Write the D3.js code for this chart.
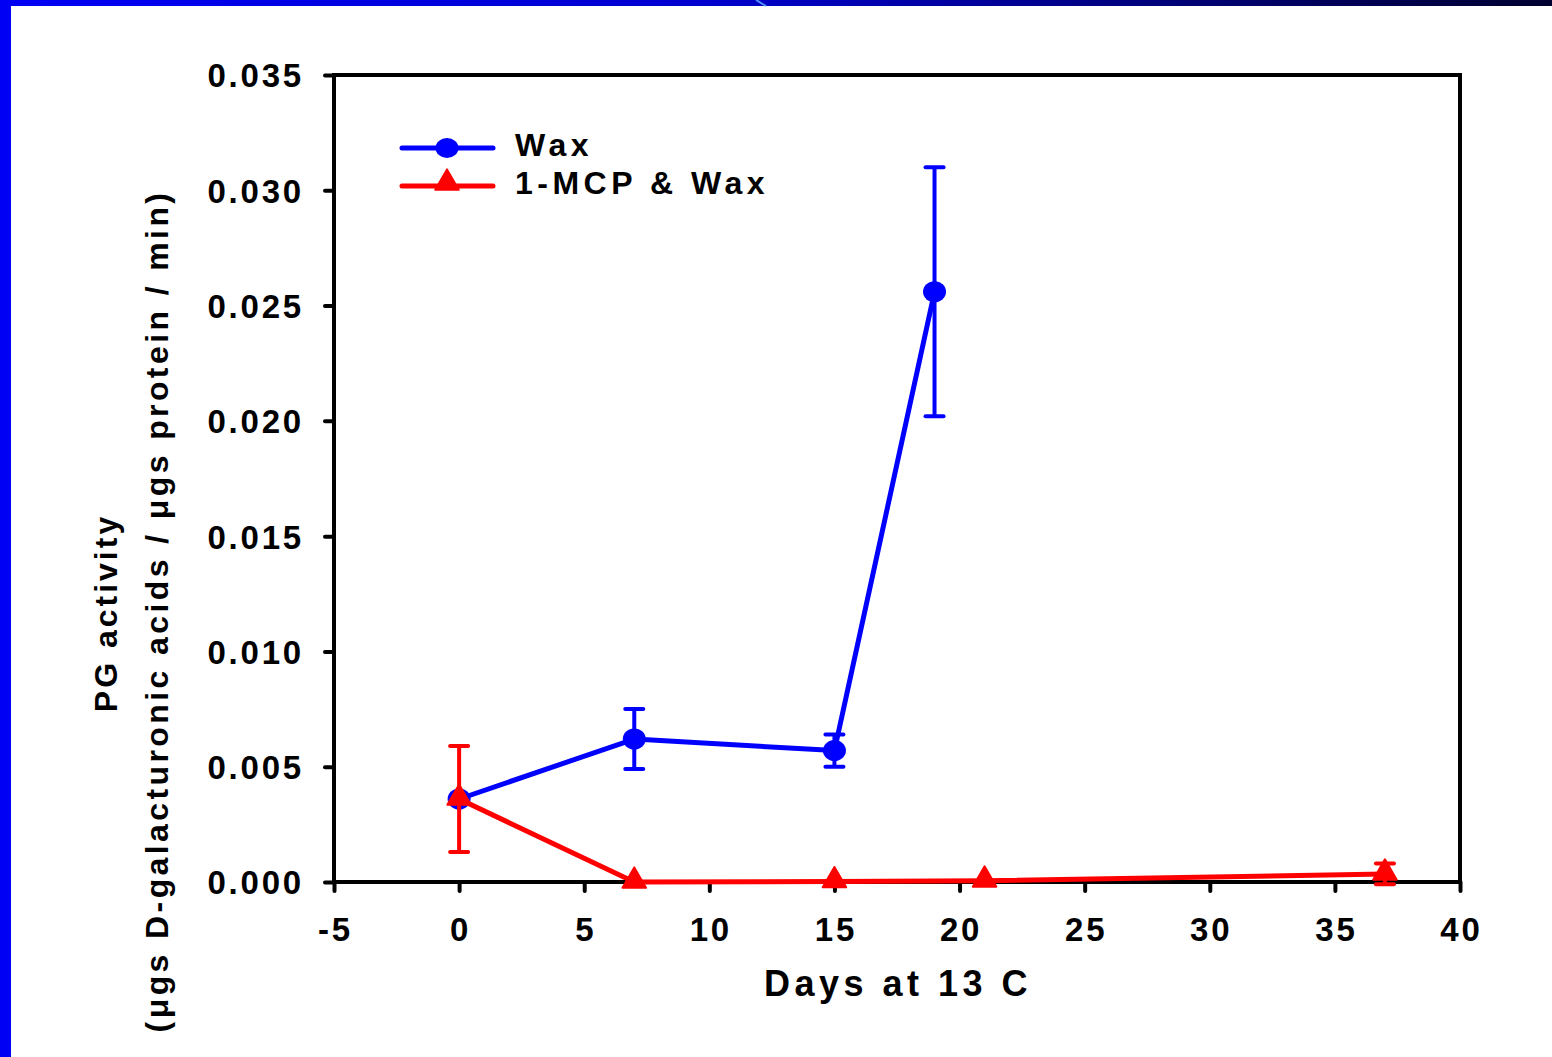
<!DOCTYPE html>
<html>
<head>
<meta charset="utf-8">
<script src="https://cdn.jsdelivr.net/npm/d3@7"></script>
<style>
  html, body { margin: 0; padding: 0; background: #fff; }
  svg { display: block; }
  text { font-family: "Liberation Sans", Arial, sans-serif; font-weight: bold; fill: #000; }
</style>
</head>
<body>
<svg id="chart" width="1552" height="1057"></svg>
<script>
// ---- data ----
const waxDays   = [0, 7, 15, 19];
const waxValues = [0.0036, 0.0062, 0.0057, 0.0256];
const waxErrors = [0.0000, 0.0013, 0.0007, 0.0054];

const mcpDays   = [0, 7, 15, 21, 37];
const mcpValues = [0.0036, 0.0000, 0.00002, 0.00005, 0.00035];
const mcpErrors = [0.0023, 0.0000, 0.0000, 0.0000, 0.00045];

const xTicks = [-5, 0, 5, 10, 15, 20, 25, 30, 35, 40];
const yTicks = [0, 0.005, 0.010, 0.015, 0.020, 0.025, 0.030, 0.035];

const seriesNames = ["Wax", "1-MCP & Wax"];
const xTitle = "Days at 13 C";
const yTitle1 = "PG activity";
const yTitle2 = "(μgs D-galacturonic acids / μgs protein / min)";

// ---- layout ----
const svg = d3.select("#chart");
const W = 1552, H = 1057;
const L = 334, R = 1460, T = 75, B = 882;

// slide frame
const defs = svg.append("defs");
const grad = defs.append("linearGradient").attr("id", "topgrad")
  .attr("x1", "0%").attr("x2", "100%").attr("y1", "0%").attr("y2", "0%");
grad.append("stop").attr("offset", "0%").attr("stop-color", "#0000f4");
grad.append("stop").attr("offset", "45%").attr("stop-color", "#0000d0");
grad.append("stop").attr("offset", "100%").attr("stop-color", "#000030");
svg.append("rect").attr("x", 0).attr("y", 0).attr("width", W).attr("height", 6).attr("fill", "url(#topgrad)");
svg.append("rect").attr("x", 0).attr("y", 0).attr("width", 11).attr("height", H).attr("fill", "#0000f4");
svg.append("line").attr("x1", 756).attr("y1", 0).attr("x2", 766).attr("y2", 6)
  .attr("stroke", "#4f8fff").attr("stroke-width", 2);

const x = d3.scaleLinear().domain([-5, 40]).range([L, R]);
const y = d3.scaleLinear().domain([0, 0.035]).range([B, T]);

// axes
const fmtY = d3.format(".3f");
const xAxis = svg.append("g").attr("transform", `translate(0,${B})`)
  .call(d3.axisBottom(x).tickValues(xTicks).tickSize(9).tickSizeOuter(0).tickPadding(27).tickFormat(d => String(d)));
const yAxis = svg.append("g").attr("transform", `translate(${L},0)`)
  .call(d3.axisLeft(y).tickValues(yTicks).tickSize(9).tickSizeOuter(0).tickPadding(21).tickFormat(fmtY));

[xAxis, yAxis].forEach(g => {
  g.select(".domain").remove();
  g.selectAll(".tick line").attr("stroke", "#000").attr("stroke-width", 4).attr("stroke-linecap", "round");
  g.selectAll(".tick text").style("font-size", "33px").style("letter-spacing", "2.8px")
    .style("font-family", "'Liberation Sans', Arial, sans-serif").style("font-weight", "bold").attr("fill", "#000");
});
xAxis.selectAll(".tick text").attr("dy", "0.71em").attr("dx", "1px");
yAxis.selectAll(".tick text").attr("dy", "0.36em");

// frame box
svg.append("rect").attr("x", L).attr("y", T).attr("width", R - L).attr("height", B - T)
  .attr("fill", "none").attr("stroke", "#000").attr("stroke-width", 4);

// series
function drawSeries(days, vals, errs, color, marker) {
  const pts = days.map((d, i) => ({ d, v: vals[i], e: errs[i] }));
  const line = d3.line().x(p => x(p.d)).y(p => y(p.v));
  const g = svg.append("g");
  g.append("path").datum(pts).attr("d", line).attr("fill", "none")
    .attr("stroke", color).attr("stroke-width", 5).attr("stroke-linejoin", "round");
  // error bars
  const eb = g.selectAll(".eb").data(pts.filter(p => p.e > 0)).enter().append("g");
  eb.append("line").attr("x1", p => x(p.d)).attr("x2", p => x(p.d))
    .attr("y1", p => y(p.v - p.e)).attr("y2", p => y(p.v + p.e))
    .attr("stroke", color).attr("stroke-width", 4);
  [1, -1].forEach(s => {
    eb.append("line").attr("x1", p => x(p.d) - 9).attr("x2", p => x(p.d) + 9)
      .attr("y1", p => y(p.v + s * p.e)).attr("y2", p => y(p.v + s * p.e))
      .attr("stroke", color).attr("stroke-width", 4).attr("stroke-linecap", "round");
  });
  // markers
  if (marker === "circle") {
    g.selectAll(".m").data(pts).enter().append("ellipse")
      .attr("cx", p => x(p.d)).attr("cy", p => y(p.v)).attr("rx", 11.5).attr("ry", 10.5).attr("fill", color);
  } else {
    const sym = d3.symbol().type(d3.symbolTriangle).size(240);
    g.selectAll(".m").data(pts).enter().append("path")
      .attr("d", sym).attr("transform", p => `translate(${x(p.d)},${y(p.v) - 1})`)
      .attr("fill", color).attr("stroke", color).attr("stroke-width", 2).attr("stroke-linejoin", "round");
  }
}
drawSeries(waxDays, waxValues, waxErrors, "#0000ff", "circle");
drawSeries(mcpDays, mcpValues, mcpErrors, "#ff0000", "triangle");

// legend
const legend = [
  { name: seriesNames[0], color: "#0000ff", marker: "circle", y: 148 },
  { name: seriesNames[1], color: "#ff0000", marker: "triangle", y: 186 }
];
legend.forEach(l => {
  svg.append("line").attr("x1", 402).attr("x2", 493).attr("y1", l.y).attr("y2", l.y)
    .attr("stroke", l.color).attr("stroke-width", 5).attr("stroke-linecap", "round");
  if (l.marker === "circle") {
    svg.append("ellipse").attr("cx", 447).attr("cy", l.y).attr("rx", 11.5).attr("ry", 10).attr("fill", l.color);
  } else {
    svg.append("path").attr("d", d3.symbol().type(d3.symbolTriangle).size(240))
      .attr("transform", `translate(447,${l.y - 3})`).attr("fill", l.color)
      .attr("stroke", l.color).attr("stroke-width", 2).attr("stroke-linejoin", "round");
  }
  svg.append("text").attr("x", 515).attr("y", l.y + 8).text(l.name)
    .style("font-size", "32px").style("letter-spacing", "4.5px");
});

// titles
svg.append("text").attr("x", 898).attr("y", 996).attr("text-anchor", "middle")
  .style("font-size", "36px").style("letter-spacing", "4.5px").text(xTitle);
svg.append("text").attr("transform", "translate(117,613) rotate(-90)").attr("text-anchor", "middle")
  .style("font-size", "32px").style("letter-spacing", "3px").text(yTitle1);
svg.append("text").attr("transform", "translate(168,611) rotate(-90)").attr("text-anchor", "middle")
  .style("font-size", "32px").style("letter-spacing", "3.4px").text(yTitle2);
</script>
</body>
</html>
